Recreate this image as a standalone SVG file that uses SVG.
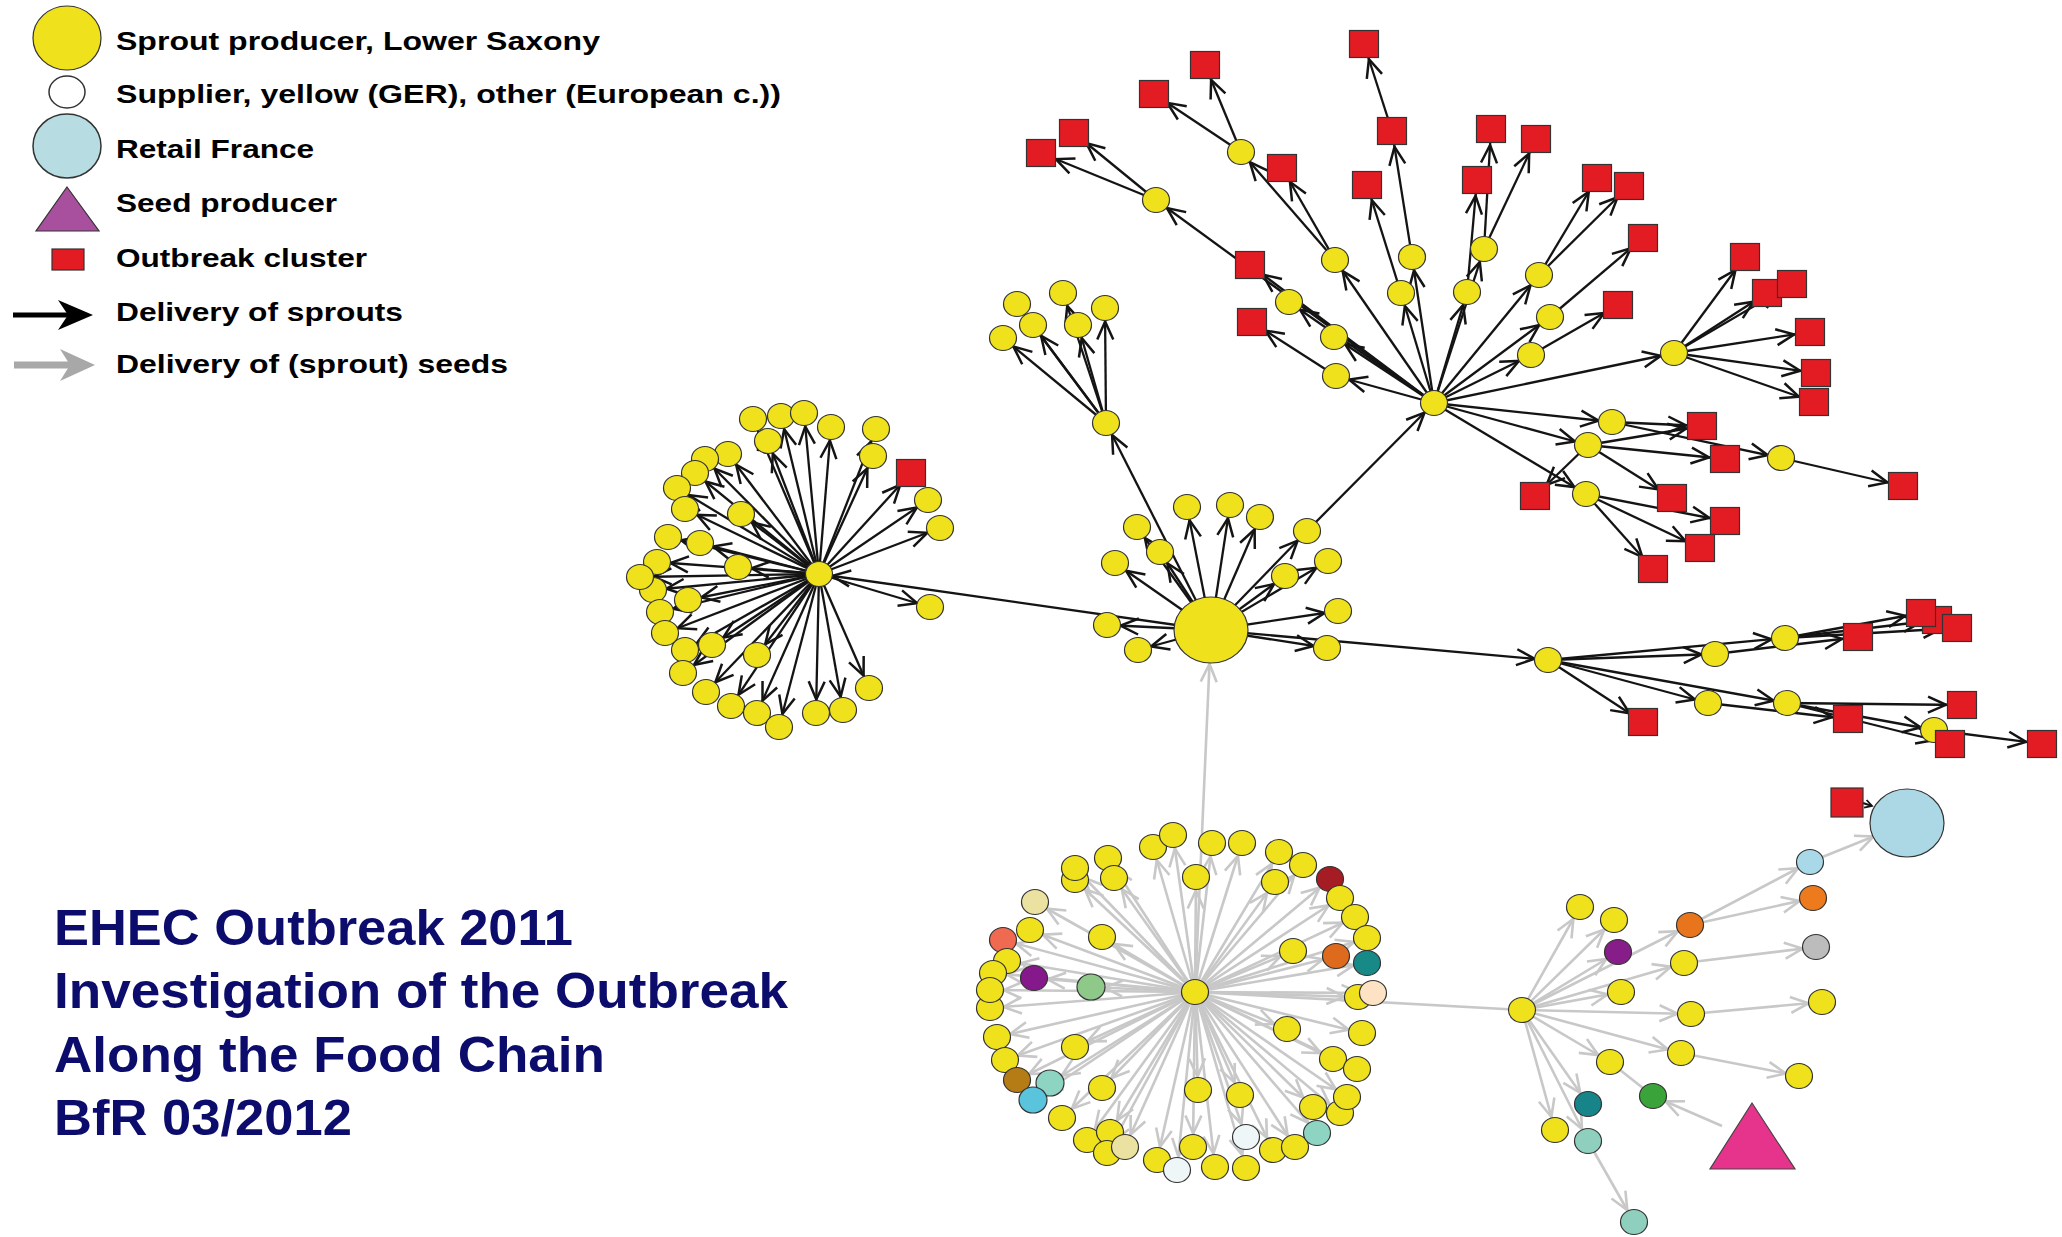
<svg xmlns="http://www.w3.org/2000/svg" xmlns:xlink="http://www.w3.org/1999/xlink" width="2062" height="1237" viewBox="0 0 2062 1237">
<style>
.y{fill:#efe11b;stroke:#333;stroke-width:1.2}
.r{fill:#e31b23;stroke:#333;stroke-width:1.2}
.k{stroke:#141414;stroke-width:2.3;marker-end:url(#mk)}
.ks{stroke:#141414;stroke-width:2.3;marker-end:url(#mks)}
.kn{stroke:#141414;stroke-width:2}
.g{stroke:#c8c8c8;stroke-width:2.6;marker-end:url(#mg)}
.gb{stroke:#c8c8c8;stroke-width:2.6;marker-end:url(#mgb)}
.gc{stroke:#c8c8c8;stroke-width:2.6;marker-end:url(#mgc)}
.gn{stroke:#c8c8c8;stroke-width:2.6}
.lt{font-family:"Liberation Sans",Arial,sans-serif;font-weight:bold;font-size:26px;fill:#000}
.tt{font-family:"Liberation Sans",Arial,sans-serif;font-weight:bold;font-size:50px;fill:#0c0c6c}
</style>
<defs>
<marker id="mk" markerUnits="userSpaceOnUse" viewBox="-40 -20 60 40" markerWidth="60" markerHeight="40" refX="13.5" refY="0" orient="auto" overflow="visible"><path d="M-18,-8 L0,0 L-18,8" fill="none" stroke="#141414" stroke-width="2.5"/></marker>
<marker id="mks" markerUnits="userSpaceOnUse" viewBox="-40 -20 60 40" markerWidth="60" markerHeight="40" refX="16" refY="0" orient="auto" overflow="visible"><path d="M-18,-8 L0,0 L-18,8" fill="none" stroke="#141414" stroke-width="2.5"/></marker>
<marker id="mk0" markerUnits="userSpaceOnUse" viewBox="-20 -10 30 20" markerWidth="30" markerHeight="20" refX="0" refY="0" orient="auto" overflow="visible"><path d="M-7,-4 L0,0 L-7,4" fill="none" stroke="#141414" stroke-width="1.8"/></marker>
<marker id="mg" markerUnits="userSpaceOnUse" viewBox="-40 -20 60 40" markerWidth="60" markerHeight="40" refX="13.5" refY="0" orient="auto" overflow="visible"><path d="M-18,-8 L0,0 L-18,8" fill="none" stroke="#c8c8c8" stroke-width="2.6"/></marker>
<marker id="mgb" markerUnits="userSpaceOnUse" viewBox="-40 -20 80 40" markerWidth="80" markerHeight="40" refX="34" refY="0" orient="auto" overflow="visible"><path d="M-18,-8 L0,0 L-18,8" fill="none" stroke="#c8c8c8" stroke-width="2.6"/></marker>
<marker id="mgc" markerUnits="userSpaceOnUse" viewBox="-40 -20 80 40" markerWidth="80" markerHeight="40" refX="36" refY="0" orient="auto" overflow="visible"><path d="M-18,-8 L0,0 L-18,8" fill="none" stroke="#c8c8c8" stroke-width="2.6"/></marker>
<ellipse id="yn" cx="0" cy="0" rx="13.5" ry="12.5" class="y"/>
<rect id="rn" x="-14.5" y="-13.5" width="29" height="27" class="r"/>
</defs>
<rect width="2062" height="1237" fill="#fff"/>

<g id="connectors">
<line class="k" x1="1211" y1="630" x2="819" y2="574"/>
<line class="k" x1="819" y1="574" x2="753" y2="419"/>
<line class="k" x1="819" y1="574" x2="781" y2="416"/>
<line class="k" x1="819" y1="574" x2="804" y2="413"/>
<line class="k" x1="819" y1="574" x2="831" y2="427"/>
<line class="k" x1="819" y1="574" x2="876" y2="429"/>
<line class="k" x1="819" y1="574" x2="768" y2="441"/>
<line class="k" x1="819" y1="574" x2="873" y2="456"/>
<line class="k" x1="819" y1="574" x2="728" y2="454"/>
<line class="k" x1="819" y1="574" x2="705" y2="459"/>
<line class="k" x1="819" y1="574" x2="695" y2="473"/>
<line class="k" x1="819" y1="574" x2="677" y2="488"/>
<line class="k" x1="819" y1="574" x2="685" y2="509"/>
<line class="k" x1="819" y1="574" x2="741" y2="514"/>
<line class="ks" x1="819" y1="574" x2="911" y2="473"/>
<line class="k" x1="819" y1="574" x2="928" y2="500"/>
<line class="k" x1="819" y1="574" x2="940" y2="528"/>
<line class="k" x1="819" y1="574" x2="668" y2="537"/>
<line class="k" x1="819" y1="574" x2="700" y2="543"/>
<line class="k" x1="819" y1="574" x2="657" y2="562"/>
<line class="k" x1="819" y1="574" x2="738" y2="567"/>
<line class="k" x1="819" y1="574" x2="640" y2="577"/>
<line class="k" x1="819" y1="574" x2="653" y2="590"/>
<line class="k" x1="819" y1="574" x2="688" y2="600"/>
<line class="k" x1="819" y1="574" x2="660" y2="612"/>
<line class="k" x1="819" y1="574" x2="930" y2="607"/>
<line class="k" x1="819" y1="574" x2="665" y2="633"/>
<line class="k" x1="819" y1="574" x2="685" y2="650"/>
<line class="k" x1="819" y1="574" x2="712" y2="645"/>
<line class="k" x1="819" y1="574" x2="757" y2="655"/>
<line class="k" x1="819" y1="574" x2="683" y2="673"/>
<line class="k" x1="819" y1="574" x2="706" y2="692"/>
<line class="k" x1="819" y1="574" x2="731" y2="706"/>
<line class="k" x1="819" y1="574" x2="757" y2="713"/>
<line class="k" x1="819" y1="574" x2="779" y2="727"/>
<line class="k" x1="819" y1="574" x2="816" y2="713"/>
<line class="k" x1="819" y1="574" x2="843" y2="710"/>
<line class="k" x1="819" y1="574" x2="869" y2="688"/>
<line class="k" x1="1211" y1="630" x2="1106" y2="423"/>
<line class="k" x1="1106" y1="423" x2="1003" y2="338"/>
<line class="k" x1="1106" y1="423" x2="1017" y2="304"/>
<line class="k" x1="1106" y1="423" x2="1033" y2="325"/>
<line class="k" x1="1106" y1="423" x2="1063" y2="293"/>
<line class="k" x1="1106" y1="423" x2="1078" y2="325"/>
<line class="k" x1="1106" y1="423" x2="1105" y2="308"/>
<line class="k" x1="1211" y1="630" x2="1137" y2="527"/>
<line class="k" x1="1211" y1="630" x2="1160" y2="552"/>
<line class="k" x1="1211" y1="630" x2="1115" y2="563"/>
<line class="k" x1="1211" y1="630" x2="1187" y2="507"/>
<line class="k" x1="1211" y1="630" x2="1230" y2="505"/>
<line class="k" x1="1211" y1="630" x2="1260" y2="517"/>
<line class="k" x1="1211" y1="630" x2="1307" y2="531"/>
<line class="k" x1="1211" y1="630" x2="1328" y2="561"/>
<line class="k" x1="1211" y1="630" x2="1285" y2="576"/>
<line class="k" x1="1211" y1="630" x2="1338" y2="611"/>
<line class="k" x1="1211" y1="630" x2="1327" y2="648"/>
<line class="k" x1="1211" y1="630" x2="1107" y2="625"/>
<line class="k" x1="1211" y1="630" x2="1138" y2="650"/>
<line class="k" x1="1307" y1="531" x2="1434" y2="403"/>
<line class="k" x1="1211" y1="630" x2="1548" y2="660"/>
<line class="k" x1="1434" y1="403" x2="1336" y2="376"/>
<line class="ks" x1="1336" y1="376" x2="1252" y2="322"/>
<line class="k" x1="1434" y1="403" x2="1334" y2="337"/>
<line class="k" x1="1434" y1="403" x2="1289" y2="302"/>
<line class="ks" x1="1434" y1="403" x2="1250" y2="265"/>
<line class="k" x1="1434" y1="403" x2="1156" y2="200"/>
<line class="ks" x1="1156" y1="200" x2="1074" y2="133"/>
<line class="ks" x1="1156" y1="200" x2="1041" y2="153"/>
<line class="k" x1="1434" y1="403" x2="1335" y2="260"/>
<line class="k" x1="1335" y1="260" x2="1241" y2="152"/>
<line class="ks" x1="1335" y1="260" x2="1282" y2="168"/>
<line class="ks" x1="1241" y1="152" x2="1154" y2="94"/>
<line class="ks" x1="1241" y1="152" x2="1205" y2="65"/>
<line class="k" x1="1434" y1="403" x2="1401" y2="293"/>
<line class="ks" x1="1401" y1="293" x2="1367" y2="185"/>
<line class="k" x1="1434" y1="403" x2="1412" y2="257"/>
<line class="ks" x1="1412" y1="257" x2="1392" y2="131"/>
<line class="ks" x1="1392" y1="131" x2="1364" y2="44"/>
<line class="k" x1="1434" y1="403" x2="1467" y2="292"/>
<line class="ks" x1="1467" y1="292" x2="1477" y2="180"/>
<line class="k" x1="1434" y1="403" x2="1484" y2="249"/>
<line class="ks" x1="1484" y1="249" x2="1491" y2="129"/>
<line class="ks" x1="1484" y1="249" x2="1536" y2="139"/>
<line class="k" x1="1434" y1="403" x2="1539" y2="275"/>
<line class="ks" x1="1539" y1="275" x2="1597" y2="178"/>
<line class="ks" x1="1539" y1="275" x2="1629" y2="186"/>
<line class="k" x1="1434" y1="403" x2="1550" y2="317"/>
<line class="ks" x1="1550" y1="317" x2="1643" y2="238"/>
<line class="k" x1="1434" y1="403" x2="1531" y2="355"/>
<line class="ks" x1="1531" y1="355" x2="1618" y2="305"/>
<line class="k" x1="1434" y1="403" x2="1674" y2="353"/>
<line class="ks" x1="1674" y1="353" x2="1745" y2="257"/>
<line class="ks" x1="1674" y1="353" x2="1767" y2="293"/>
<line class="ks" x1="1674" y1="353" x2="1792" y2="284"/>
<line class="ks" x1="1674" y1="353" x2="1810" y2="332"/>
<line class="ks" x1="1674" y1="353" x2="1816" y2="373"/>
<line class="ks" x1="1674" y1="353" x2="1814" y2="402"/>
<line class="k" x1="1434" y1="403" x2="1612" y2="422"/>
<line class="k" x1="1434" y1="403" x2="1588" y2="445"/>
<line class="k" x1="1434" y1="403" x2="1586" y2="494"/>
<line class="ks" x1="1612" y1="422" x2="1702" y2="426"/>
<line class="k" x1="1612" y1="422" x2="1781" y2="458"/>
<line class="ks" x1="1588" y1="445" x2="1702" y2="426"/>
<line class="ks" x1="1588" y1="445" x2="1725" y2="459"/>
<line class="ks" x1="1588" y1="445" x2="1672" y2="498"/>
<line class="ks" x1="1588" y1="445" x2="1535" y2="496"/>
<line class="ks" x1="1781" y1="458" x2="1903" y2="486"/>
<line class="ks" x1="1586" y1="494" x2="1725" y2="521"/>
<line class="ks" x1="1586" y1="494" x2="1700" y2="548"/>
<line class="ks" x1="1586" y1="494" x2="1653" y2="569"/>
<line class="k" x1="1548" y1="660" x2="1715" y2="654"/>
<line class="k" x1="1548" y1="660" x2="1785" y2="638"/>
<line class="ks" x1="1715" y1="654" x2="1858" y2="637"/>
<line class="ks" x1="1785" y1="638" x2="1921" y2="613"/>
<line class="ks" x1="1785" y1="638" x2="1937" y2="620"/>
<line class="ks" x1="1785" y1="638" x2="1957" y2="628"/>
<line class="ks" x1="1548" y1="660" x2="1643" y2="722"/>
<line class="k" x1="1548" y1="660" x2="1708" y2="703"/>
<line class="k" x1="1548" y1="660" x2="1787" y2="703"/>
<line class="ks" x1="1708" y1="703" x2="1848" y2="719"/>
<line class="ks" x1="1787" y1="703" x2="1962" y2="705"/>
<line class="k" x1="1787" y1="703" x2="1934" y2="730"/>
<line class="ks" x1="1787" y1="703" x2="1950" y2="744"/>
<line class="ks" x1="1934" y1="730" x2="2042" y2="744"/>
<line class="gb" x1="1195" y1="992" x2="1211" y2="630"/>
<line class="gn" x1="1195" y1="992" x2="1522" y2="1010"/>
<line class="g" x1="1195" y1="992" x2="1153" y2="847"/>
<line class="g" x1="1195" y1="992" x2="1173" y2="835"/>
<line class="g" x1="1195" y1="992" x2="1212" y2="843"/>
<line class="g" x1="1195" y1="992" x2="1242" y2="843"/>
<line class="g" x1="1195" y1="992" x2="1196" y2="877"/>
<line class="g" x1="1195" y1="992" x2="1075" y2="868"/>
<line class="g" x1="1195" y1="992" x2="1075" y2="880"/>
<line class="g" x1="1195" y1="992" x2="1108" y2="858"/>
<line class="g" x1="1195" y1="992" x2="1114" y2="878"/>
<line class="g" x1="1195" y1="992" x2="1035" y2="902"/>
<line class="g" x1="1195" y1="992" x2="1030" y2="930"/>
<line class="g" x1="1195" y1="992" x2="1003" y2="940"/>
<line class="g" x1="1195" y1="992" x2="1007" y2="961"/>
<line class="g" x1="1195" y1="992" x2="993" y2="973"/>
<line class="g" x1="1195" y1="992" x2="1034" y2="978"/>
<line class="g" x1="1195" y1="992" x2="1091" y2="987"/>
<line class="g" x1="1195" y1="992" x2="990" y2="990"/>
<line class="g" x1="1195" y1="992" x2="990" y2="1008"/>
<line class="g" x1="1195" y1="992" x2="1102" y2="937"/>
<line class="g" x1="1195" y1="992" x2="1279" y2="852"/>
<line class="g" x1="1195" y1="992" x2="1303" y2="865"/>
<line class="g" x1="1195" y1="992" x2="1275" y2="882"/>
<line class="g" x1="1195" y1="992" x2="1330" y2="879"/>
<line class="g" x1="1195" y1="992" x2="1340" y2="898"/>
<line class="g" x1="1195" y1="992" x2="1355" y2="917"/>
<line class="g" x1="1195" y1="992" x2="1367" y2="938"/>
<line class="g" x1="1195" y1="992" x2="1293" y2="951"/>
<line class="g" x1="1195" y1="992" x2="1336" y2="956"/>
<line class="g" x1="1195" y1="992" x2="1367" y2="963"/>
<line class="g" x1="1195" y1="992" x2="1358" y2="997"/>
<line class="g" x1="1195" y1="992" x2="1373" y2="993"/>
<line class="g" x1="1195" y1="992" x2="1287" y2="1029"/>
<line class="g" x1="1195" y1="992" x2="1362" y2="1033"/>
<line class="g" x1="1195" y1="992" x2="997" y2="1037"/>
<line class="g" x1="1195" y1="992" x2="1005" y2="1060"/>
<line class="g" x1="1195" y1="992" x2="1075" y2="1047"/>
<line class="g" x1="1195" y1="992" x2="1017" y2="1080"/>
<line class="g" x1="1195" y1="992" x2="1050" y2="1083"/>
<line class="g" x1="1195" y1="992" x2="1033" y2="1100"/>
<line class="g" x1="1195" y1="992" x2="1333" y2="1059"/>
<line class="g" x1="1195" y1="992" x2="1357" y2="1069"/>
<line class="g" x1="1195" y1="992" x2="1102" y2="1088"/>
<line class="g" x1="1195" y1="992" x2="1198" y2="1090"/>
<line class="g" x1="1195" y1="992" x2="1240" y2="1095"/>
<line class="g" x1="1195" y1="992" x2="1062" y2="1118"/>
<line class="g" x1="1195" y1="992" x2="1087" y2="1140"/>
<line class="g" x1="1195" y1="992" x2="1110" y2="1132"/>
<line class="g" x1="1195" y1="992" x2="1107" y2="1153"/>
<line class="g" x1="1195" y1="992" x2="1125" y2="1147"/>
<line class="g" x1="1195" y1="992" x2="1157" y2="1160"/>
<line class="g" x1="1195" y1="992" x2="1177" y2="1170"/>
<line class="g" x1="1195" y1="992" x2="1193" y2="1147"/>
<line class="g" x1="1195" y1="992" x2="1215" y2="1167"/>
<line class="g" x1="1195" y1="992" x2="1246" y2="1168"/>
<line class="g" x1="1195" y1="992" x2="1246" y2="1137"/>
<line class="g" x1="1195" y1="992" x2="1273" y2="1150"/>
<line class="g" x1="1195" y1="992" x2="1295" y2="1147"/>
<line class="g" x1="1195" y1="992" x2="1317" y2="1133"/>
<line class="g" x1="1195" y1="992" x2="1313" y2="1107"/>
<line class="g" x1="1195" y1="992" x2="1347" y2="1097"/>
<line class="g" x1="1195" y1="992" x2="1340" y2="1113"/>
<line class="g" x1="1522" y1="1010" x2="1580" y2="907"/>
<line class="g" x1="1522" y1="1010" x2="1614" y2="920"/>
<line class="g" x1="1522" y1="1010" x2="1618" y2="952"/>
<line class="g" x1="1522" y1="1010" x2="1690" y2="925"/>
<line class="g" x1="1522" y1="1010" x2="1684" y2="963"/>
<line class="g" x1="1522" y1="1010" x2="1621" y2="992"/>
<line class="g" x1="1522" y1="1010" x2="1691" y2="1014"/>
<line class="g" x1="1522" y1="1010" x2="1681" y2="1053"/>
<line class="g" x1="1522" y1="1010" x2="1610" y2="1062"/>
<line class="gn" x1="1610" y1="1062" x2="1653" y2="1096"/>
<line class="g" x1="1522" y1="1010" x2="1588" y2="1104"/>
<line class="g" x1="1522" y1="1010" x2="1555" y2="1130"/>
<line class="g" x1="1522" y1="1010" x2="1588" y2="1141"/>
<line class="g" x1="1588" y1="1141" x2="1634" y2="1222"/>
<line class="g" x1="1690" y1="925" x2="1810" y2="862"/>
<line class="g" x1="1690" y1="925" x2="1813" y2="898"/>
<line class="gc" x1="1810" y1="862" x2="1907" y2="823"/>
<line class="g" x1="1684" y1="963" x2="1816" y2="947"/>
<line class="g" x1="1691" y1="1014" x2="1822" y2="1002"/>
<line class="g" x1="1681" y1="1053" x2="1799" y2="1076"/>
<line class="g" x1="1722" y1="1126" x2="1653" y2="1096"/>
<line class="kn" x1="1863" y1="803" x2="1872" y2="806" style="marker-end:url(#mk0)"/>
</g>

<g id="nodes-left">
<g id="L0"><use href="#yn" x="819" y="574"/></g>
<g id="L1"><use href="#yn" x="753" y="419"/></g>
<g id="L2"><use href="#yn" x="781" y="416"/></g>
<g id="L3"><use href="#yn" x="804" y="413"/></g>
<g id="L4"><use href="#yn" x="831" y="427"/></g>
<g id="L5"><use href="#yn" x="876" y="429"/></g>
<g id="L6"><use href="#yn" x="768" y="441"/></g>
<g id="L7"><use href="#yn" x="873" y="456"/></g>
<g id="L8"><use href="#yn" x="728" y="454"/></g>
<g id="L9"><use href="#yn" x="705" y="459"/></g>
<g id="L10"><use href="#yn" x="695" y="473"/></g>
<g id="L11"><use href="#yn" x="677" y="488"/></g>
<g id="L12"><use href="#yn" x="685" y="509"/></g>
<g id="L13"><use href="#yn" x="741" y="514"/></g>
<g id="L14"><use href="#rn" x="911" y="473"/></g>
<g id="L15"><use href="#yn" x="928" y="500"/></g>
<g id="L16"><use href="#yn" x="940" y="528"/></g>
<g id="L17"><use href="#yn" x="668" y="537"/></g>
<g id="L18"><use href="#yn" x="700" y="543"/></g>
<g id="L19"><use href="#yn" x="657" y="562"/></g>
<g id="L20"><use href="#yn" x="738" y="567"/></g>
<g id="L22"><use href="#yn" x="653" y="590"/></g>
<g id="L21"><use href="#yn" x="640" y="577"/></g>
<g id="L23"><use href="#yn" x="688" y="600"/></g>
<g id="L24"><use href="#yn" x="660" y="612"/></g>
<g id="L25"><use href="#yn" x="930" y="607"/></g>
<g id="L26"><use href="#yn" x="665" y="633"/></g>
<g id="L27"><use href="#yn" x="685" y="650"/></g>
<g id="L28"><use href="#yn" x="712" y="645"/></g>
<g id="L29"><use href="#yn" x="757" y="655"/></g>
<g id="L30"><use href="#yn" x="683" y="673"/></g>
<g id="L31"><use href="#yn" x="706" y="692"/></g>
<g id="L32"><use href="#yn" x="731" y="706"/></g>
<g id="L33"><use href="#yn" x="757" y="713"/></g>
<g id="L34"><use href="#yn" x="779" y="727"/></g>
<g id="L35"><use href="#yn" x="816" y="713"/></g>
<g id="L36"><use href="#yn" x="843" y="710"/></g>
<g id="L37"><use href="#yn" x="869" y="688"/></g>
</g>

<g id="nodes-middle">
<g id="B"><ellipse class="y" cx="1211" cy="630" rx="37" ry="33"/></g>
<g id="U"><use href="#yn" x="1106" y="423"/></g>
<g id="U2"><use href="#yn" x="1017" y="304"/></g>
<g id="U4"><use href="#yn" x="1063" y="293"/></g>
<g id="U1"><use href="#yn" x="1003" y="338"/></g>
<g id="U3"><use href="#yn" x="1033" y="325"/></g>
<g id="U5"><use href="#yn" x="1078" y="325"/></g>
<g id="U6"><use href="#yn" x="1105" y="308"/></g>
<g id="M1"><use href="#yn" x="1137" y="527"/></g>
<g id="M2"><use href="#yn" x="1160" y="552"/></g>
<g id="M3"><use href="#yn" x="1115" y="563"/></g>
<g id="M4"><use href="#yn" x="1187" y="507"/></g>
<g id="M5"><use href="#yn" x="1230" y="505"/></g>
<g id="M6"><use href="#yn" x="1260" y="517"/></g>
<g id="M7"><use href="#yn" x="1307" y="531"/></g>
<g id="M8"><use href="#yn" x="1328" y="561"/></g>
<g id="M9"><use href="#yn" x="1285" y="576"/></g>
<g id="M10"><use href="#yn" x="1338" y="611"/></g>
<g id="M11"><use href="#yn" x="1327" y="648"/></g>
<g id="M12"><use href="#yn" x="1107" y="625"/></g>
<g id="M13"><use href="#yn" x="1138" y="650"/></g>
</g>

<g id="nodes-top">
<g id="T0"><use href="#yn" x="1434" y="403"/></g>
<g id="T1"><use href="#yn" x="1336" y="376"/></g>
<g id="T2"><use href="#rn" x="1252" y="322"/></g>
<g id="T3"><use href="#yn" x="1334" y="337"/></g>
<g id="T4"><use href="#yn" x="1289" y="302"/></g>
<g id="T5"><use href="#rn" x="1250" y="265"/></g>
<g id="T6"><use href="#yn" x="1156" y="200"/></g>
<g id="T7"><use href="#rn" x="1074" y="133"/></g>
<g id="T8"><use href="#rn" x="1041" y="153"/></g>
<g id="T9"><use href="#yn" x="1335" y="260"/></g>
<g id="T10"><use href="#yn" x="1241" y="152"/></g>
<g id="T11"><use href="#rn" x="1282" y="168"/></g>
<g id="T12"><use href="#rn" x="1154" y="94"/></g>
<g id="T13"><use href="#rn" x="1205" y="65"/></g>
<g id="T14"><use href="#yn" x="1401" y="293"/></g>
<g id="T15"><use href="#rn" x="1367" y="185"/></g>
<g id="T16"><use href="#yn" x="1412" y="257"/></g>
<g id="T17"><use href="#rn" x="1392" y="131"/></g>
<g id="T18"><use href="#rn" x="1364" y="44"/></g>
<g id="T19"><use href="#yn" x="1467" y="292"/></g>
<g id="T20"><use href="#rn" x="1477" y="180"/></g>
<g id="T21"><use href="#yn" x="1484" y="249"/></g>
<g id="T22"><use href="#rn" x="1491" y="129"/></g>
<g id="T23"><use href="#rn" x="1536" y="139"/></g>
<g id="T24"><use href="#yn" x="1539" y="275"/></g>
<g id="T25"><use href="#rn" x="1597" y="178"/></g>
<g id="T26"><use href="#rn" x="1629" y="186"/></g>
<g id="T27"><use href="#yn" x="1550" y="317"/></g>
<g id="T28"><use href="#rn" x="1643" y="238"/></g>
<g id="T29"><use href="#yn" x="1531" y="355"/></g>
<g id="T30"><use href="#rn" x="1618" y="305"/></g>
<g id="T31"><use href="#yn" x="1674" y="353"/></g>
<g id="T32"><use href="#rn" x="1745" y="257"/></g>
<g id="T33"><use href="#rn" x="1767" y="293"/></g>
<g id="T34"><use href="#rn" x="1792" y="284"/></g>
<g id="T35"><use href="#rn" x="1810" y="332"/></g>
<g id="T37"><use href="#rn" x="1814" y="402"/></g>
<g id="T36"><use href="#rn" x="1816" y="373"/></g>
<g id="T38"><use href="#yn" x="1612" y="422"/></g>
<g id="T39"><use href="#yn" x="1588" y="445"/></g>
<g id="T40"><use href="#yn" x="1586" y="494"/></g>
<g id="T41"><use href="#rn" x="1702" y="426"/></g>
<g id="T42"><use href="#rn" x="1725" y="459"/></g>
<g id="T43"><use href="#yn" x="1781" y="458"/></g>
<g id="T44"><use href="#rn" x="1903" y="486"/></g>
<g id="T45"><use href="#rn" x="1535" y="496"/></g>
<g id="T46"><use href="#rn" x="1672" y="498"/></g>
<g id="T47"><use href="#rn" x="1725" y="521"/></g>
<g id="T48"><use href="#rn" x="1700" y="548"/></g>
<g id="T49"><use href="#rn" x="1653" y="569"/></g>
</g>

<g id="nodes-right">
<g id="R0"><use href="#yn" x="1548" y="660"/></g>
<g id="R1"><use href="#yn" x="1715" y="654"/></g>
<g id="R2"><use href="#yn" x="1785" y="638"/></g>
<g id="R3"><use href="#rn" x="1858" y="637"/></g>
<g id="R5"><use href="#rn" x="1937" y="620"/></g>
<g id="R4"><use href="#rn" x="1921" y="613"/></g>
<g id="R6"><use href="#rn" x="1957" y="628"/></g>
<g id="R7"><use href="#yn" x="1708" y="703"/></g>
<g id="R8"><use href="#yn" x="1787" y="703"/></g>
<g id="R9"><use href="#rn" x="1643" y="722"/></g>
<g id="R10"><use href="#rn" x="1848" y="719"/></g>
<g id="R11"><use href="#rn" x="1962" y="705"/></g>
<g id="R12"><use href="#yn" x="1934" y="730"/></g>
<g id="R13"><use href="#rn" x="1950" y="744"/></g>
<g id="R14"><use href="#rn" x="2042" y="744"/></g>
</g>

<g id="nodes-seed">
<g id="S0"><use href="#yn" x="1195" y="992"/></g>
<g id="S1"><use href="#yn" x="1153" y="847"/></g>
<g id="S2"><use href="#yn" x="1173" y="835"/></g>
<g id="S3"><use href="#yn" x="1212" y="843"/></g>
<g id="S4"><use href="#yn" x="1242" y="843"/></g>
<g id="S5"><use href="#yn" x="1196" y="877"/></g>
<g id="S7"><use href="#yn" x="1075" y="880"/></g>
<g id="S6"><use href="#yn" x="1075" y="868"/></g>
<g id="S8"><use href="#yn" x="1108" y="858"/></g>
<g id="S9"><use href="#yn" x="1114" y="878"/></g>
<g id="S10"><ellipse class="y" style="fill:#ebe1a0" cx="1035" cy="902" rx="13.5" ry="12.5"/></g>
<g id="S11"><use href="#yn" x="1030" y="930"/></g>
<g id="S12"><ellipse class="y" style="fill:#ef6a50" cx="1003" cy="940" rx="13.5" ry="12.5"/></g>
<g id="S13"><use href="#yn" x="1007" y="961"/></g>
<g id="S14"><use href="#yn" x="993" y="973"/></g>
<g id="S15"><ellipse class="y" style="fill:#85188a" cx="1034" cy="978" rx="13.5" ry="12.5"/></g>
<g id="S16"><ellipse class="y" style="fill:#8ec98a" cx="1091" cy="987" rx="14" ry="13"/></g>
<g id="S18"><use href="#yn" x="990" y="1008"/></g>
<g id="S17"><use href="#yn" x="990" y="990"/></g>
<g id="S19"><use href="#yn" x="1102" y="937"/></g>
<g id="S20"><use href="#yn" x="1279" y="852"/></g>
<g id="S21"><use href="#yn" x="1303" y="865"/></g>
<g id="S22"><use href="#yn" x="1275" y="882"/></g>
<g id="S23"><ellipse class="y" style="fill:#a51c24" cx="1330" cy="879" rx="13.5" ry="12.5"/></g>
<g id="S24"><use href="#yn" x="1340" y="898"/></g>
<g id="S25"><use href="#yn" x="1355" y="917"/></g>
<g id="S26"><use href="#yn" x="1367" y="938"/></g>
<g id="S27"><use href="#yn" x="1293" y="951"/></g>
<g id="S28"><ellipse class="y" style="fill:#de6a1e" cx="1336" cy="956" rx="13.5" ry="12.5"/></g>
<g id="S29"><ellipse class="y" style="fill:#178a88" cx="1367" cy="963" rx="13.5" ry="12.5"/></g>
<g id="S30"><use href="#yn" x="1358" y="997"/></g>
<g id="S31"><ellipse class="y" style="fill:#fde2c4" cx="1373" cy="993" rx="13.5" ry="12.5"/></g>
<g id="S32"><use href="#yn" x="1287" y="1029"/></g>
<g id="S33"><use href="#yn" x="1362" y="1033"/></g>
<g id="S34"><use href="#yn" x="997" y="1037"/></g>
<g id="S35"><use href="#yn" x="1005" y="1060"/></g>
<g id="S36"><use href="#yn" x="1075" y="1047"/></g>
<g id="S37"><ellipse class="y" style="fill:#b57b14" cx="1017" cy="1080" rx="13.5" ry="12.5"/></g>
<g id="S38"><ellipse class="y" style="fill:#8ed4c2" cx="1050" cy="1083" rx="14" ry="13"/></g>
<g id="S39"><ellipse class="y" style="fill:#5ac4dc" cx="1033" cy="1100" rx="14" ry="13"/></g>
<g id="S40"><use href="#yn" x="1333" y="1059"/></g>
<g id="S41"><use href="#yn" x="1357" y="1069"/></g>
<g id="S42"><use href="#yn" x="1102" y="1088"/></g>
<g id="S43"><use href="#yn" x="1198" y="1090"/></g>
<g id="S44"><use href="#yn" x="1240" y="1095"/></g>
<g id="S45"><use href="#yn" x="1062" y="1118"/></g>
<g id="S46"><use href="#yn" x="1087" y="1140"/></g>
<g id="S47"><use href="#yn" x="1110" y="1132"/></g>
<g id="S48"><use href="#yn" x="1107" y="1153"/></g>
<g id="S49"><ellipse class="y" style="fill:#ebe1a0" cx="1125" cy="1147" rx="13.5" ry="12.5"/></g>
<g id="S50"><use href="#yn" x="1157" y="1160"/></g>
<g id="S51"><ellipse class="y" style="fill:#eef6f8" cx="1177" cy="1170" rx="13.5" ry="12.5"/></g>
<g id="S52"><use href="#yn" x="1193" y="1147"/></g>
<g id="S53"><use href="#yn" x="1215" y="1167"/></g>
<g id="S54"><use href="#yn" x="1246" y="1168"/></g>
<g id="S55"><ellipse class="y" style="fill:#eef6f8" cx="1246" cy="1137" rx="13.5" ry="12.5"/></g>
<g id="S56"><use href="#yn" x="1273" y="1150"/></g>
<g id="S57"><use href="#yn" x="1295" y="1147"/></g>
<g id="S58"><ellipse class="y" style="fill:#8ed4c2" cx="1317" cy="1133" rx="13.5" ry="12.5"/></g>
<g id="S59"><use href="#yn" x="1313" y="1107"/></g>
<g id="S61"><use href="#yn" x="1340" y="1113"/></g>
<g id="S60"><use href="#yn" x="1347" y="1097"/></g>
</g>

<g id="nodes-bottom-right">
<g id="Q0"><use href="#yn" x="1522" y="1010"/></g>
<g id="Q1"><use href="#yn" x="1580" y="907"/></g>
<g id="Q2"><use href="#yn" x="1614" y="920"/></g>
<g id="Q3"><ellipse class="y" style="fill:#861d88" cx="1618" cy="952" rx="13.5" ry="12.5"/></g>
<g id="Q4"><ellipse class="y" style="fill:#e8751c" cx="1690" cy="925" rx="13.5" ry="12.5"/></g>
<g id="Q5"><use href="#yn" x="1684" y="963"/></g>
<g id="Q6"><use href="#yn" x="1621" y="992"/></g>
<g id="Q7"><use href="#yn" x="1691" y="1014"/></g>
<g id="Q8"><use href="#yn" x="1681" y="1053"/></g>
<g id="Q9"><use href="#yn" x="1610" y="1062"/></g>
<g id="Q10"><ellipse class="y" style="fill:#3aa33a" cx="1653" cy="1096" rx="13.5" ry="12.5"/></g>
<g id="Q11"><ellipse class="y" style="fill:#17848a" cx="1588" cy="1104" rx="13.5" ry="12.5"/></g>
<g id="Q12"><use href="#yn" x="1555" y="1130"/></g>
<g id="Q13"><ellipse class="y" style="fill:#8fcfbd" cx="1588" cy="1141" rx="13.5" ry="12.5"/></g>
<g id="Q14"><ellipse class="y" style="fill:#8fcfbd" cx="1634" cy="1222" rx="13.5" ry="12.5"/></g>
<g id="Q15"><ellipse class="y" style="fill:#a9d8e8" cx="1810" cy="862" rx="13.5" ry="12.5"/></g>
<g id="Q16"><ellipse class="y" style="fill:#ee7a1e" cx="1813" cy="898" rx="13.5" ry="12.5"/></g>
<g id="Q17"><ellipse class="y" style="fill:#bcbcbc" cx="1816" cy="947" rx="13.5" ry="12.5"/></g>
<g id="Q18"><use href="#yn" x="1822" y="1002"/></g>
<g id="Q19"><use href="#yn" x="1799" y="1076"/></g>
<g id="Q20"><ellipse class="y" style="fill:#acd8e6" cx="1907" cy="823" rx="37" ry="34"/></g>
<g id="Q21"><rect class="r" x="1831" y="788" width="32" height="29"/></g>
<g id="Q22"><polygon points="1752,1103 1795,1169 1710,1169" fill="#e6338b" stroke="#444" stroke-width="1.2"/></g>
</g>

<g id="legend">
<ellipse class="y" cx="67" cy="38" rx="34" ry="32"/>
<text class="lt" x="116" y="50" textLength="484" lengthAdjust="spacingAndGlyphs">Sprout producer, Lower Saxony</text>
<ellipse cx="67" cy="92" rx="18" ry="16" fill="#fff" stroke="#333" stroke-width="1.5"/>
<text class="lt" x="116" y="103" textLength="665" lengthAdjust="spacingAndGlyphs">Supplier, yellow (GER), other (European c.))</text>
<ellipse cx="67" cy="146" rx="34" ry="32" fill="#b7dde2" stroke="#333" stroke-width="1.5"/>
<text class="lt" x="116" y="158" textLength="198" lengthAdjust="spacingAndGlyphs">Retail France</text>
<polygon points="67,187 99,231 36,231" fill="#a8509e" stroke="#333" stroke-width="1.2"/>
<text class="lt" x="116" y="212" textLength="221" lengthAdjust="spacingAndGlyphs">Seed producer</text>
<rect class="r" x="52" y="249" width="32" height="21"/>
<text class="lt" x="116" y="267" textLength="251" lengthAdjust="spacingAndGlyphs">Outbreak cluster</text>
<path d="M13,315 H78" stroke="#000" stroke-width="5" fill="none"/>
<polygon points="58,300 93,315 58,330 68,315" fill="#000"/>
<text class="lt" x="116" y="321" textLength="287" lengthAdjust="spacingAndGlyphs">Delivery of sprouts</text>
<path d="M14,365 H80" stroke="#a8a8a8" stroke-width="7" fill="none"/>
<polygon points="60,349 95,365 60,381 70,365" fill="#a8a8a8"/>
<text class="lt" x="116" y="373" textLength="392" lengthAdjust="spacingAndGlyphs">Delivery of (sprout) seeds</text>
</g>

<g id="title">
<text class="tt" x="54" y="945" textLength="519" lengthAdjust="spacingAndGlyphs">EHEC Outbreak 2011</text>
<text class="tt" x="54" y="1008" textLength="734" lengthAdjust="spacingAndGlyphs">Investigation of the Outbreak</text>
<text class="tt" x="54" y="1072" textLength="551" lengthAdjust="spacingAndGlyphs">Along the Food Chain</text>
<text class="tt" x="54" y="1135" textLength="298" lengthAdjust="spacingAndGlyphs">BfR 03/2012</text>
</g>
</svg>
